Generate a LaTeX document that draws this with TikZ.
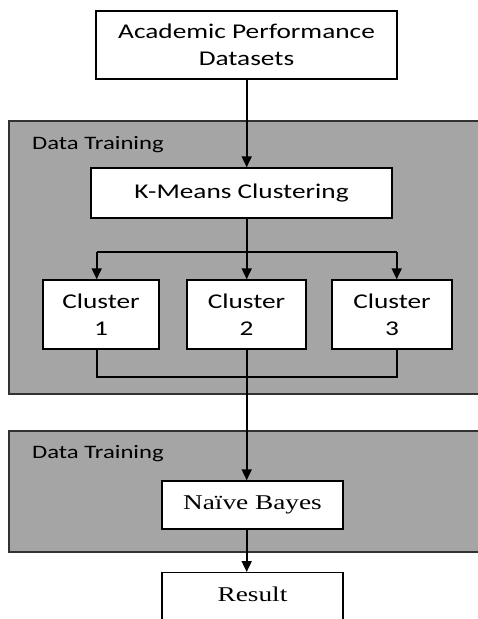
\documentclass[tikz,border=0pt]{standalone}
\usepackage{fontspec}
\newfontfamily\calfont{Carlito}[FakeStretch=1.3]
\newfontfamily\tmsfont{Liberation Serif}[FakeStretch=1.3]
\usetikzlibrary{arrows.meta}
\definecolor{panelgray}{RGB}{165,165,165}
\definecolor{panelline}{RGB}{50,50,50}
\tikzset{
  box/.style={draw=black, line width=1.4pt, fill=white, inner sep=0pt, align=center,
    font=\calfont\fontsize{21}{27}\selectfont},
  sbox/.style={box, font=\tmsfont\fontsize{21}{27}\selectfont},
  panel/.style={draw=panelline, line width=2pt, fill=panelgray},
  plabel/.style={anchor=west, inner sep=0pt, font=\calfont\fontsize{19}{23}\selectfont},
  conn/.style={line width=1.8pt, draw=black},
  arr/.style={conn, -{Triangle[width=10pt,length=11pt]}}
}
\begin{document}
\begin{tikzpicture}[x=1pt,y=1pt]
\useasboundingbox (0,0) rectangle (478,-619);
\clip (0,0) rectangle (478,-619);
\fill[white] (0,0) rectangle (478,-619);
% panels
\draw[panel] (9,-121) rectangle (495,-394);
\draw[panel] (9,-431) rectangle (495,-552);
\node[plabel] (l1) at (32,-145) {Data Training};
\node[plabel] (l2) at (32,-454) {Data Training};
% boxes
\node[box, minimum width=301pt, minimum height=68pt] (ds) at (246.5,-45) {Academic Performance\\Datasets};
\node[box, minimum width=301pt, minimum height=50pt] (km) at (241.5,-193) {K-Means Clustering};
\node[box, minimum width=116pt, minimum height=69pt] (c1) at (101,-314.5) {Cluster\\1};
\node[box, minimum width=119pt, minimum height=69pt] (c2) at (246.5,-314.5) {Cluster\\2};
\node[box, minimum width=120pt, minimum height=69pt] (c3) at (392,-314.5) {Cluster\\3};
\node[sbox, minimum width=181pt, minimum height=48pt] (nb) at (252.5,-505) {Na\"{\i}ve Bayes};
\node[sbox, minimum width=181pt, minimum height=70pt, anchor=north] (res) at (252.5,-572) {};
\node[inner sep=0pt, font=\tmsfont\fontsize{21}{27}\selectfont] (restext) at (252.5,-594) {Result};
% branch coordinates
\coordinate (ax) at (246.7,0);
\coordinate (b1) at (96.7,-252);
\coordinate (b2) at (246.7,-252);
\coordinate (b3) at (396.7,-252);
\coordinate (j1) at (96.7,-377);
\coordinate (j2) at (246.7,-377);
\coordinate (j3) at (396.7,-377);
% connectors
\draw[arr] (ds.south -| ax) -- (km.north -| ax);
\draw[conn] (km.south -| ax) -- (b2);
\draw[conn] (b1) -- (b3);
\draw[arr] (b1) -- (c1.north -| b1);
\draw[arr] (b2) -- (c2.north -| b2);
\draw[arr] (b3) -- (c3.north -| b3);
\draw[conn] (c1.south -| j1) -- (j1) -- (j3) -- (c3.south -| j3);
\draw[arr] (c2.south -| ax) -- (nb.north -| ax);
\draw[arr] (nb.south -| ax) -- (res.north -| ax);
\end{tikzpicture}
\end{document}
